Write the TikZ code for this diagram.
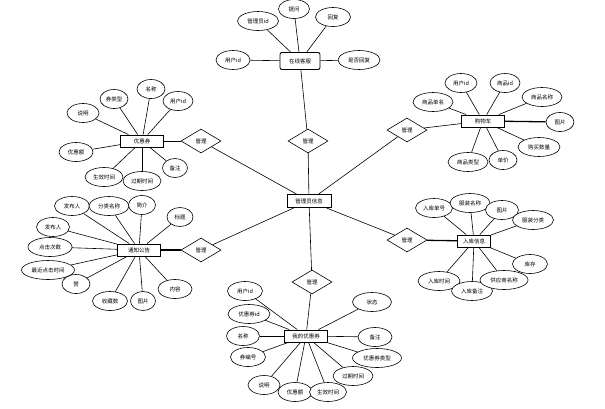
\documentclass[tikz,border=0pt]{standalone}
\usepackage{fontspec}
\setmainfont{Noto Sans CJK SC}
\usetikzlibrary{shapes.geometric}
\tikzset{
    entity/.style={rectangle, draw=black, line width=0.9pt, fill=white, minimum width=43pt, minimum height=12pt, inner sep=1pt, text centered, font=\fontsize{5.5}{6}\selectfont},
    attr/.style={ellipse, draw=black, line width=0.6pt, fill=white, minimum width=34pt, minimum height=19pt, inner sep=0pt, text centered, font=\fontsize{5.5}{6}\selectfont},
    rel/.style={diamond, draw=black, line width=0.6pt, fill=white, minimum width=40pt, minimum height=24pt, inner sep=0pt, text centered, font=\fontsize{5.5}{6}\selectfont},
    line/.style={line width=0.6pt},
    thick_line/.style={line width=1.3pt},
}
\begin{document}
\begin{tikzpicture}[x=1pt, y=-1pt]
    \useasboundingbox (0,0) rectangle (605,408);
    %%%%%%%%%%%%%%%%%
    % ENTITIES      %
    %%%%%%%%%%%%%%%%%
    \node (admin) [entity, minimum width=44pt, minimum height=13pt] at (309,201) {管理员信息};
    \node (service) [entity, rounded corners=2pt, minimum width=40pt, minimum height=17pt] at (300,61) {在线客服};
    \node (coupon) [entity] at (142,141) {优惠券};
    \node (notice) [entity] at (139,250) {通知公告};
    \node (cart) [entity] at (483,121) {购物车};
    \node (stock) [entity, minimum width=33pt] at (474,241) {入库信息};
    \node (mycoupon) [entity] at (306,336) {我的优惠券};
    %%%%%%%%%%%%%%%%%
    % RELATIONSHIPS %
    %%%%%%%%%%%%%%%%%
    \node (r_service) [rel] at (308,141) {管理};
    \node (r_coupon) [rel] at (201,141) {管理};
    \node (r_notice) [rel] at (201,250) {管理};
    \node (r_cart) [rel] at (407,130) {管理};
    \node (r_stock) [rel] at (407,240) {管理};
    \node (r_mycoupon) [rel] at (312,282) {管理};
    \foreach \r/\e in {r_service/service, r_coupon/coupon, r_cart/cart, r_mycoupon/mycoupon}{
        \draw [line] (admin) -- (\r);
        \draw [line] (\r) -- (\e);
    }
    \draw [line] (admin) -- (r_notice);
    \draw [thick_line] (r_notice) -- (notice);
    \draw [line] (admin) -- (r_stock);
    \draw [thick_line] (r_stock) -- (stock);
    %%%%%%%%%%%%%%%%%
    % ATTRIBUTES    %
    %%%%%%%%%%%%%%%%%
    % 在线客服
    \foreach \n/\x/\y/\w/\t in {1/258/21/41/管理员id, 2/294/9/31/提问, 3/333/17/35/回复, 4/233/60/34/用户id, 5/359/60/42/是否回复}{
        \node (sv\n) [attr, minimum width=\w pt] at (\x,\y) {\t};
        \draw [line] (sv\n) -- (service);
    }
    % 购物车
    \foreach \n/\x/\y/\w/\t in {1/461/83/32/用户id, 2/505/83/30/商品id, 3/542/97/40/商品名称, 4/433/102/40/商品单名, 6/539/147/42/购买数量, 7/503/160/28/单价, 8/468/162/40/商品类型}{
        \node (ct\n) [attr, minimum width=\w pt] at (\x,\y) {\t};
        \draw [line] (ct\n) -- (cart);
    }
    \node (ct5) [attr, minimum width=28pt] at (560,122) {图片};
    \draw [thick_line] (ct5) -- (cart);
    % 优惠券
    \foreach \n/\x/\y/\w/\t in {1/83/113/32/说明, 2/114/99/28/券类型, 3/151/89/28/名称, 4/178/101/30/用户id, 5/76/152/34/优惠额, 6/104/177/38/生效时间, 7/142/181/38/过期时间, 8/175/168/25/备注}{
        \node (cp\n) [attr, minimum width=\w pt] at (\x,\y) {\t};
        \draw [line] (cp\n) -- (coupon);
    }
    % 通知公告
    \foreach \n/\x/\y/\w/\t in {1/72/206/35/发布人, 2/109/206/40/分类名称, 3/142/205/27/简介, 4/180/217/26/标题, 5/53/227/33/发布人, 6/50/247/44/点击次数, 7/48/270/53/最近点击时间, 8/76/284/28/赞, 9/110/301/35/收藏数, 10/143/301/25/图片, 11/175/289/34/内容}{
        \node (nt\n) [attr, minimum width=\w pt] at (\x,\y) {\t};
        \draw [line] (nt\n) -- (notice);
    }
    % 入库信息
    \foreach \n/\x/\y/\w/\t in {1/434/208/37/入库单号, 2/470/203/40/服装名称, 3/502/210/33/图片, 4/533/220/41/服装分类, 5/530/264/35/库存, 6/439/281/42/入库时间, 7/472/291/41/入库备注, 8/504/280/48/供应商名称}{
        \node (sk\n) [attr, minimum width=\w pt] at (\x,\y) {\t};
        \draw [line] (sk\n) -- (stock);
    }
    % 我的优惠券
    \foreach \n/\x/\y/\w/\t in {1/245/291/35/用户id, 2/249/314/42/优惠券id, 3/243/336/33/名称, 4/248/357/35/券编号, 5/264/385/32/说明, 6/295/392/34/优惠额, 7/328/392/37/生效时间, 8/353/376/40/过期时间, 9/377/358/49/优惠券类型, 10/375/337/34/备注, 11/372/302/39/状态}{
        \node (mc\n) [attr, minimum width=\w pt] at (\x,\y) {\t};
        \draw [line] (mc\n) -- (mycoupon);
    }
\end{tikzpicture}
\end{document}
